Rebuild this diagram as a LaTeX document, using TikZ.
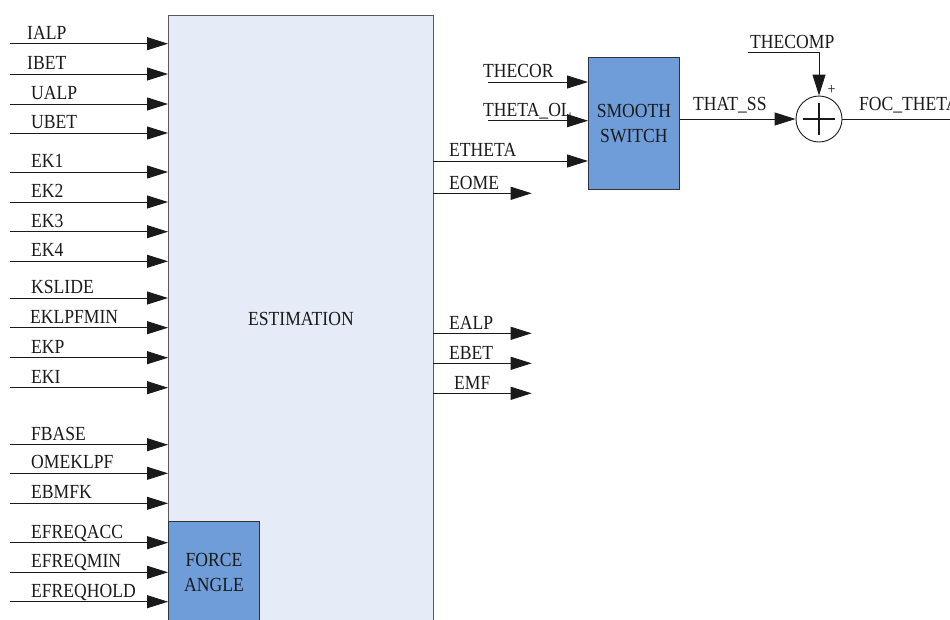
\documentclass[tikz,border=0pt]{standalone}
\usepackage{fontspec}
\setmainfont{Liberation Serif}[FakeStretch=0.88]
\usetikzlibrary{arrows.meta,calc}
\definecolor{estfill}{HTML}{E5ECF7}
\definecolor{blkfill}{HTML}{6F9DD9}
\definecolor{ink}{HTML}{1A1A1A}
\begin{document}
\begin{tikzpicture}[x=1pt,y=-1pt,
  arr/.style={-{Triangle[length=21pt,width=13pt]}, line width=0.9pt, draw=ink},
  wire/.style={line width=0.9pt, draw=ink},
  lbl/.style={font=\fontsize{20}{25}\selectfont, inner sep=0pt, anchor=base west, text=ink},
  bigbox/.style={draw=black!65, fill=estfill, line width=0.9pt, inner sep=0pt,
    anchor=north west, font=\fontsize{20}{25}\selectfont, text=ink},
  bluebox/.style={draw=black!80, fill=blkfill, line width=0.9pt, inner sep=0pt,
    anchor=north west, align=center, font=\fontsize{20}{25}\selectfont, text=ink},
  sumnode/.style={circle, draw=ink, fill=white, line width=0.9pt, minimum size=46pt, inner sep=0pt}]
\useasboundingbox (0,0) rectangle (950,619);

% main estimation block
\node[bigbox, minimum width=265pt, minimum height=608pt] (est) at (168,15) {ESTIMATION};
% force angle block
\node[bluebox, minimum width=91pt, minimum height=103pt] (force) at (168,520.7) {FORCE\\ANGLE};
% smooth switch block
\node[bluebox, minimum width=91pt, minimum height=132pt] (smooth) at (588,57) {SMOOTH\\SWITCH};
% summing junction
\node[sumnode] (sum) at (819,119) {};
\draw[line width=2.2pt, draw=ink] ($(sum.center)+(-16,0)$) -- ($(sum.center)+(16,0)$);
\draw[line width=2.2pt, draw=ink] ($(sum.center)+(0,-16)$) -- ($(sum.center)+(0,16)$);

% inputs
\foreach \t/\y/\x in {IALP/43.7/27, IBET/74/27, UALP/104/31, UBET/133/31,
  EK1/172/31, EK2/202/31, EK3/231.7/31, EK4/261.3/31,
  KSLIDE/298/31, EKLPFMIN/327.7/30, EKP/357.7/31, EKI/387.7/31,
  FBASE/444.7/31, OMEKLPF/473.3/31, EBMFK/503.3/31,
  EFREQACC/542.7/31, EFREQMIN/572.3/31, EFREQHOLD/601.7/31}{
  \coordinate (in-\t) at (9.5,\y);
  \draw[arr] (in-\t) -- (in-\t -| est.west);
  \node[lbl] (l-\t) at (\x,\y-4.5) {\t};
}

% estimation outputs
\coordinate (o-etheta) at (433,161);
\draw[arr] (o-etheta) -- (o-etheta -| smooth.west);
\node[lbl] (l-etheta) at (449,156.5) {ETHETA};
\foreach \t/\y/\x in {EOME/193.3/449, EALP/333.3/449, EBET/363.3/449, EMF/393.3/454}{
  \coordinate (s-\t) at (433,\y);
  \coordinate (e-\t) at (531.7,\y);
  \draw[arr] (s-\t) -- (e-\t);
  \node[lbl] (l-\t) at (\x,\y-4) {\t};
}

% smooth switch inputs
\coordinate (thecor) at (488,82);
\draw[arr] (thecor) -- (thecor -| smooth.west);
\node[lbl] (l-thecor) at (483,77.3) {THECOR};
\coordinate (thetaol) at (488,120.7);
\draw[arr] (thetaol) -- (thetaol -| smooth.west);
\node[lbl] (l-thetaol) at (483,116) {THETA\_OL};

% smooth switch to sum
\draw[arr] (smooth.east |- sum) -- (sum.west);
\node[lbl] (l-thatss) at (693,110) {THAT\_SS};

% thecomp
\coordinate (thecomp) at (747.7,52.3);
\draw[arr] (thecomp) -| (sum.north);
\node[lbl] (l-thecomp) at (750,48) {THECOMP};
\node[font=\fontsize{16}{16}\selectfont, text=ink, inner sep=0pt] (plus) at (831.7,90) {+};

% output
\coordinate (foc) at (960,119);
\draw[wire] (sum.east) -- (foc);
\node[lbl] (l-foc) at (859,110) {FOC\_THETA};
\end{tikzpicture}
\end{document}
